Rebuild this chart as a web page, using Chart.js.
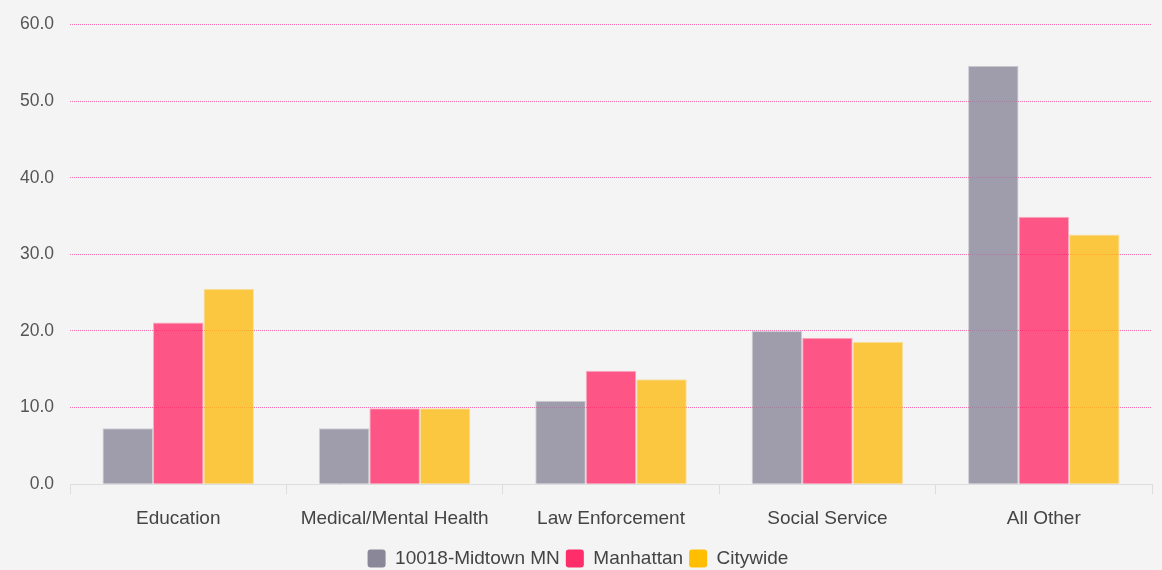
<!DOCTYPE html>
<html>
<head>
<meta charset="utf-8">
<script src="https://cdn.jsdelivr.net/npm/chart.js@4/dist/chart.umd.min.js"></script>
<style>
  html, body { margin: 0; padding: 0; background: #f4f4f4; overflow: hidden; }
  .grafico { position: relative; width: 1162px; height: 580px; margin-top: -2px; }
</style>
</head>
<body>
<div class="grafico"><canvas id="graficoBarras"></canvas></div>
<script>
// === DADOS =================================================================
const categorias = ['Education', 'Medical/Mental Health', 'Law Enforcement', 'Social Service', 'All Other'];
const midtown    = [7.3, 7.3, 10.9, 20.0, 54.6];
const manhattan  = [21.1, 9.9, 14.8, 19.1, 34.9];
const citywide   = [25.5, 9.9, 13.7, 18.6, 32.6];
const yTicks     = [0, 10, 20, 30, 40, 50, 60];

// cor cheia (legenda) e cor translúcida (barras)
const cores = [
  { nome: '10018-Midtown MN', valores: midtown,   cheia: 'rgb(138,135,153)', rgb: '138,135,153' },
  { nome: 'Manhattan',        valores: manhattan, cheia: 'rgb(255,45,106)',  rgb: '255,45,106' },
  { nome: 'Citywide',         valores: citywide,  cheia: 'rgb(255,191,0)',   rgb: '252,188,20' }
];

// === CHART =================================================================
const fonte = "'Liberation Sans', Arial, Helvetica, sans-serif";
Chart.defaults.font.family = fonte;
Chart.defaults.color = '#555';

const ctx = document.getElementById('graficoBarras');

new Chart(ctx, {
  type: 'bar',
  data: {
    labels: categorias,
    datasets: cores.map(c => ({
      label: c.nome,
      data: c.valores,
      backgroundColor: `rgba(${c.rgb},0.8)`,
      borderColor: `rgba(${c.rgb},0.35)`,
      borderWidth: 1,
      categoryPercentage: 0.7,
      barPercentage: 1.0
    }))
  },
  options: {
    responsive: true,
    maintainAspectRatio: false,
    animation: false,
    layout: { padding: { top: 8, right: 10, bottom: 0, left: 4 } },
    plugins: {
      tooltip: { enabled: false },
      legend: {
        position: 'bottom',
        labels: {
          font: { size: 19 },
          color: '#444',
          boxWidth: 18,
          boxHeight: 18,
          padding: 6,
          useBorderRadius: true,
          borderRadius: 3,
          generateLabels: (chart) => cores.map((c, i) => ({
            text: c.nome,
            fillStyle: c.cheia,
            strokeStyle: c.cheia,
            lineWidth: 0,
            fontColor: '#444',
            borderRadius: 3,
            datasetIndex: i,
            hidden: false
          }))
        }
      }
    },
    scales: {
      x: {
        offset: true,
        border: { display: true, color: '#ddd' },
        grid: { offset: true, drawOnChartArea: false, drawTicks: true, tickLength: 10, color: '#ddd' },
        ticks: { font: { size: 19 }, color: '#444', padding: 13 }
      },
      y: {
        min: 0,
        max: 60,
        afterBuildTicks: (axis) => { axis.ticks = yTicks.map(v => ({ value: v })); },
        border: { display: false, dash: [1, 1] },
        grid: { color: '#ff6fae', drawTicks: false, lineWidth: 1 },
        ticks: {
          font: { size: 17.5 },
          color: '#555',
          padding: 16,
          callback: (v) => Number(v).toFixed(1)
        }
      }
    }
  }
});
</script>
</body>
</html>
